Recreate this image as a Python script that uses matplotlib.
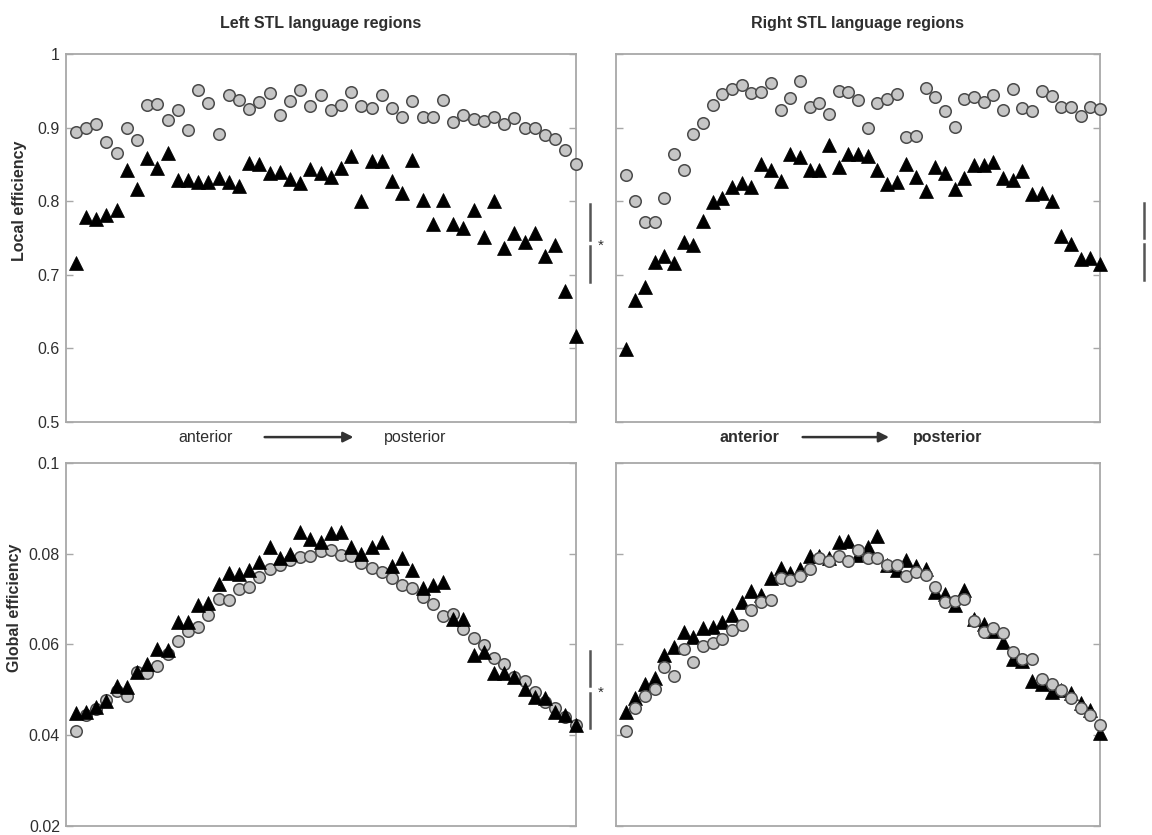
import numpy as np
import matplotlib
matplotlib.use('Agg')
import matplotlib.pyplot as plt

plt.rcParams['font.family'] = ['Liberation Sans', 'DejaVu Sans']

# region index, anterior -> posterior
regions = np.arange(1, 51)

# local efficiency, left STL
local_left_circ = [0.894, 0.900, 0.905, 0.880, 0.866, 0.899, 0.883, 0.931, 0.932, 0.910,
                   0.924, 0.897, 0.951, 0.934, 0.892, 0.944, 0.938, 0.925, 0.935, 0.947,
                   0.917, 0.936, 0.951, 0.929, 0.944, 0.924, 0.931, 0.949, 0.930, 0.926,
                   0.944, 0.927, 0.914, 0.936, 0.915, 0.914, 0.937, 0.907, 0.917, 0.912,
                   0.909, 0.915, 0.905, 0.913, 0.899, 0.899, 0.890, 0.885, 0.870, 0.851]
local_left_tri = [0.716, 0.779, 0.776, 0.781, 0.788, 0.842, 0.817, 0.859, 0.845, 0.865,
                  0.829, 0.829, 0.826, 0.826, 0.831, 0.826, 0.821, 0.852, 0.851, 0.838,
                  0.840, 0.830, 0.825, 0.844, 0.839, 0.833, 0.845, 0.862, 0.800, 0.855,
                  0.855, 0.828, 0.811, 0.856, 0.802, 0.769, 0.802, 0.769, 0.764, 0.788,
                  0.751, 0.800, 0.736, 0.757, 0.744, 0.757, 0.726, 0.741, 0.678, 0.617]

# local efficiency, right STL
local_right_circ = [0.836, 0.800, 0.772, 0.772, 0.805, 0.864, 0.842, 0.892, 0.906, 0.931,
                    0.946, 0.952, 0.958, 0.947, 0.949, 0.961, 0.924, 0.940, 0.963, 0.928,
                    0.934, 0.918, 0.950, 0.949, 0.938, 0.899, 0.934, 0.939, 0.946, 0.887,
                    0.888, 0.954, 0.941, 0.922, 0.901, 0.939, 0.941, 0.935, 0.944, 0.924,
                    0.953, 0.926, 0.923, 0.950, 0.943, 0.928, 0.928, 0.916, 0.928, 0.925]
local_right_tri = [0.599, 0.666, 0.683, 0.718, 0.726, 0.716, 0.745, 0.741, 0.773, 0.799,
                   0.804, 0.819, 0.825, 0.819, 0.850, 0.842, 0.827, 0.864, 0.860, 0.842,
                   0.842, 0.876, 0.846, 0.864, 0.864, 0.862, 0.843, 0.824, 0.826, 0.851,
                   0.833, 0.814, 0.846, 0.838, 0.817, 0.831, 0.849, 0.849, 0.853, 0.832,
                   0.829, 0.841, 0.810, 0.811, 0.800, 0.753, 0.742, 0.722, 0.723, 0.715]

# global efficiency, left STL
global_left_circ = [0.0410, 0.0444, 0.0458, 0.0477, 0.0497, 0.0487, 0.0540, 0.0537, 0.0552, 0.0579,
                    0.0607, 0.0630, 0.0639, 0.0665, 0.0701, 0.0697, 0.0722, 0.0727, 0.0749, 0.0767,
                    0.0775, 0.0787, 0.0793, 0.0796, 0.0806, 0.0808, 0.0798, 0.0794, 0.0780, 0.0769,
                    0.0760, 0.0746, 0.0732, 0.0724, 0.0705, 0.0689, 0.0663, 0.0667, 0.0635, 0.0614,
                    0.0599, 0.0571, 0.0556, 0.0529, 0.0519, 0.0495, 0.0473, 0.0460, 0.0441, 0.0423]
global_left_tri = [0.0449, 0.0452, 0.0463, 0.0476, 0.0509, 0.0506, 0.0540, 0.0556, 0.0591, 0.0588,
                   0.0649, 0.0650, 0.0687, 0.0692, 0.0733, 0.0758, 0.0756, 0.0764, 0.0781, 0.0815,
                   0.0790, 0.0799, 0.0847, 0.0832, 0.0825, 0.0846, 0.0847, 0.0815, 0.0799, 0.0815,
                   0.0825, 0.0774, 0.0791, 0.0764, 0.0725, 0.0732, 0.0737, 0.0657, 0.0657, 0.0577,
                   0.0584, 0.0537, 0.0537, 0.0528, 0.0502, 0.0485, 0.0482, 0.0452, 0.0444, 0.0423]

# global efficiency, right STL
global_right_circ = [0.0409, 0.0459, 0.0487, 0.0503, 0.0551, 0.0530, 0.0589, 0.0561, 0.0597, 0.0604,
                     0.0612, 0.0632, 0.0644, 0.0677, 0.0694, 0.0697, 0.0747, 0.0743, 0.0750, 0.0766,
                     0.0791, 0.0785, 0.0795, 0.0784, 0.0809, 0.0791, 0.0791, 0.0776, 0.0776, 0.0750,
                     0.0760, 0.0754, 0.0726, 0.0693, 0.0695, 0.0700, 0.0652, 0.0627, 0.0636, 0.0625,
                     0.0584, 0.0569, 0.0569, 0.0524, 0.0513, 0.0499, 0.0483, 0.0460, 0.0444, 0.0422]
global_right_tri = [0.0452, 0.0482, 0.0514, 0.0526, 0.0576, 0.0594, 0.0627, 0.0617, 0.0637, 0.0639,
                    0.0650, 0.0665, 0.0693, 0.0717, 0.0710, 0.0747, 0.0768, 0.0758, 0.0767, 0.0794,
                    0.0794, 0.0791, 0.0826, 0.0829, 0.0797, 0.0815, 0.0839, 0.0775, 0.0764, 0.0787,
                    0.0774, 0.0766, 0.0716, 0.0712, 0.0686, 0.0721, 0.0656, 0.0645, 0.0629, 0.0605,
                    0.0569, 0.0564, 0.0520, 0.0514, 0.0496, 0.0499, 0.0492, 0.0471, 0.0456, 0.0404]

local_ticks = [0.5, 0.6, 0.7, 0.8, 0.9, 1]
local_labels = ['0.5', '0.6', '0.7', '0.8', '0.9', '1']
global_ticks = [0.02, 0.04, 0.06, 0.08, 0.1]
global_labels = ['0.02', '0.04', '0.06', '0.08', '0.1']

spine_col = '#a8a8a8'
txt_col = '#2e2e2e'

fig = plt.figure(figsize=(11.52, 8.35), dpi=100)
ax_tl = fig.add_axes([0.0569, 0.4946, 0.4427, 0.4407])
ax_tr = fig.add_axes([0.5347, 0.4946, 0.4201, 0.4407])
ax_bl = fig.add_axes([0.0569, 0.0108, 0.4427, 0.4347])
ax_br = fig.add_axes([0.5347, 0.0108, 0.4201, 0.4347])

panels = [
    (ax_tl, local_left_circ, local_left_tri, (0.5, 1), local_ticks, local_labels, True),
    (ax_tr, local_right_circ, local_right_tri, (0.5, 1), local_ticks, local_labels, False),
    (ax_bl, global_left_circ, global_left_tri, (0.02, 0.1), global_ticks, global_labels, True),
    (ax_br, global_right_circ, global_right_tri, (0.02, 0.1), global_ticks, global_labels, False),
]

for ax, circ, tri, ylim, ticks, labels, left in panels:
    # circles on top in right panels, triangles on top in left ones
    z_circ, z_tri = (3, 4) if left else (4, 3)
    ax.plot(regions, circ, 'o', ms=8.3, mfc='#c6c6c6', mec='#4a4a4a', mew=1.1,
            zorder=z_circ, clip_on=False)
    ax.plot(regions, tri, '^', ms=9.5, mfc='black', mec='black', mew=0.5,
            zorder=z_tri, clip_on=False)
    ax.set_xlim(0, 50)
    ax.set_ylim(*ylim)
    ax.set_xticks([])
    ax.set_yticks(ticks)
    if left:
        ax.set_yticklabels(labels)
    else:
        ax.set_yticklabels([])
    ax.tick_params(axis='y', direction='in', length=5, width=1, color=spine_col,
                   labelsize=11.5, labelcolor=txt_col, right=True, pad=4)
    for sp in ax.spines.values():
        sp.set_color(spine_col)
        sp.set_linewidth(1.3)

ax_tl.set_title('Left STL language regions', fontsize=11.5, fontweight='bold',
                color=txt_col, pad=19)
ax_tr.set_title('Right STL language regions', fontsize=11.5, fontweight='bold',
                color=txt_col, pad=19)
ax_tl.set_ylabel('Local efficiency', fontsize=11.5, fontweight='bold', color=txt_col, labelpad=5)
ax_bl.set_ylabel('Global efficiency', fontsize=11.5, fontweight='bold', color=txt_col, labelpad=3)
ax_tl.yaxis.set_label_coords(-0.075, 0.6)
ax_bl.yaxis.set_label_coords(-0.085, 0.6)

# anterior -> posterior labels
for ax, weight, a0, a1 in [(ax_tl, 'normal', 0.385, 0.57), (ax_tr, 'bold', 0.38, 0.57)]:
    ax.text(0.275, -0.041, 'anterior', transform=ax.transAxes, ha='center', va='center',
            fontsize=11.5, fontweight=weight, color=txt_col)
    ax.text(0.685, -0.041, 'posterior', transform=ax.transAxes, ha='center', va='center',
            fontsize=11.5, fontweight=weight, color=txt_col)
    ax.annotate('', xy=(a1, -0.041), xytext=(a0, -0.041), xycoords='axes fraction',
                arrowprops=dict(arrowstyle='-|>', color='#333333', lw=1.8, mutation_scale=15))

# significance markers
def bracket(ax, x, segs, star=None):
    for y0, y1 in segs:
        ax.plot([x, x], [y0, y1], color='#555555', lw=1.8, transform=ax.transAxes,
                clip_on=False)
    if star is not None:
        ax.text(star[0], star[1], '*', transform=ax.transAxes, ha='center', va='center',
                fontsize=11, color=txt_col)

bracket(ax_tl, 1.028, [(0.592, 0.495), (0.478, 0.380)], star=(1.050, 0.480))
bracket(ax_bl, 1.028, [(0.482, 0.387), (0.365, 0.270)], star=(1.050, 0.368))
bracket(ax_tr, 1.091, [(0.595, 0.500), (0.484, 0.386)])

plt.savefig('out.png', dpi=100)
